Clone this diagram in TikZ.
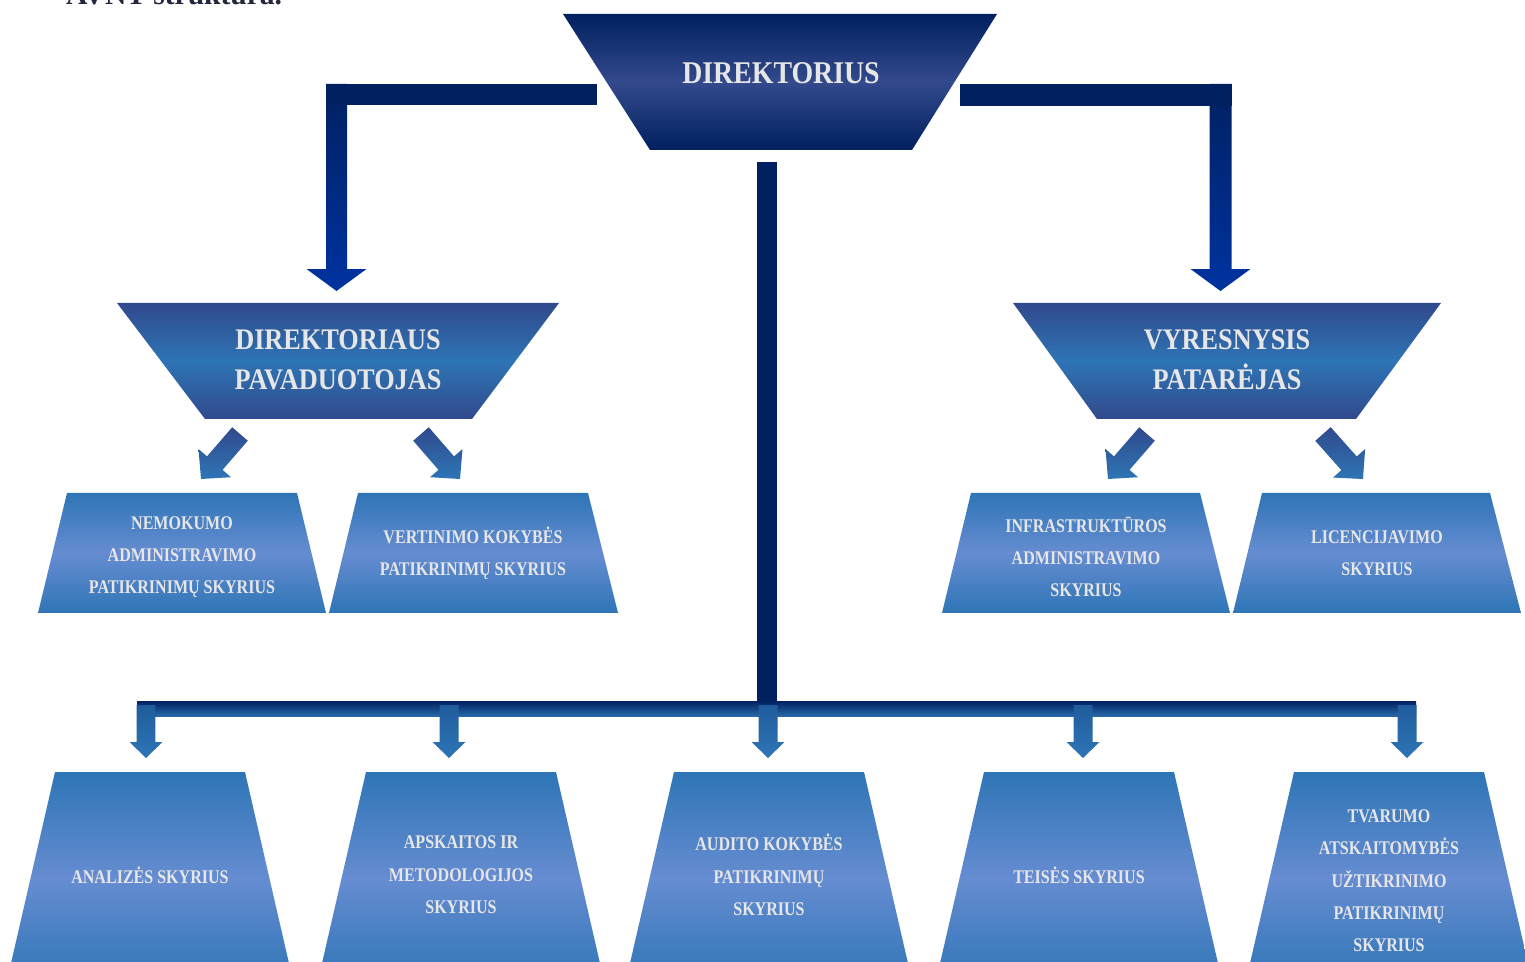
\documentclass[tikz,border=0pt]{standalone}
\usepackage{fontspec}
\setmainfont{Liberation Serif}
\newfontfamily\headfont[FakeStretch=0.88]{Liberation Serif}
\newfontfamily\boxfont[FakeStretch=0.83]{Liberation Serif}
\usetikzlibrary{calc}
\definecolor{qqnavy}{rgb}{0,0.125,0.376}
\definecolor{dirmid}{rgb}{0.2,0.29,0.55}
\definecolor{subdark}{rgb}{0.19,0.29,0.55}
\definecolor{subblue}{rgb}{0.18,0.455,0.71}
\definecolor{boxblue}{rgb}{0.18,0.46,0.714}
\definecolor{boxlight}{rgb}{0.4,0.55,0.82}
\definecolor{arrblue}{rgb}{0,0.2,0.63}
\definecolor{txtgray}{rgb}{0.906,0.902,0.902}
\definecolor{titlecol}{rgb}{0.14,0.15,0.25}
\tikzset{
  topbox/.style={top color=qqnavy,bottom color=qqnavy,middle color=dirmid},
  subbox/.style={top color=subdark,bottom color=subdark,middle color=subblue},
  unitbox/.style={top color=boxblue,bottom color=boxblue,middle color=boxlight},
  headtxt/.style={text=txtgray,align=center,font=\headfont\bfseries\fontsize{17}{22.7}\selectfont},
  unittxt/.style={text=txtgray,align=center,font=\boxfont\bfseries\fontsize{11}{18.4}\selectfont}
}
\newcommand{\blockarrow}[6]{%
  \coordinate (hb) at ($(#2)!#5!(#1)$);
  \shade[#6] ($(#1)!#3!90:(#2)$) -- ($(hb)!#3!90:(#2)$) -- ($(hb)!#4!90:(#2)$) -- (#2)
    -- ($(hb)!#4!-90:(#2)$) -- ($(hb)!#3!-90:(#2)$) -- ($(#1)!#3!-90:(#2)$) -- cycle;}

\begin{document}
\begin{tikzpicture}[line join=round,x=0.02cm,y=-0.02cm]
\useasboundingbox (0,0) rectangle (1525,962);
\node[anchor=base west,text=titlecol,font=\bfseries\fontsize{16.8}{20}\selectfont] (title) at (60,5) {AVNT struktūra.};

\shade[topbox] (563,14) -- (997,14) -- (912,150) -- (650,150) -- cycle;
\shade[subbox] (117,303) -- (559,303) -- (472,419) -- (205,419) -- cycle;
\shade[subbox] (1013,303) -- (1441,303) -- (1356,419) -- (1097,419) -- cycle;
\shade[unitbox] (67,493) -- (297,493) -- (326,613) -- (38,613) -- cycle;
\shade[unitbox] (358,493) -- (588,493) -- (618,613) -- (329,613) -- cycle;
\shade[unitbox] (971,493) -- (1200,493) -- (1230,613) -- (942,613) -- cycle;
\shade[unitbox] (1262,493) -- (1490,493) -- (1521,613) -- (1233,613) -- cycle;
\foreach \x in {150,461,769,1079,1389}
  \shade[unitbox] (\x-95,772) -- (\x+95,772) -- (\x+144,985) -- (\x-144,985) -- cycle;

\node[headtxt,font=\headfont\bfseries\fontsize{18}{22}\selectfont] (dir) at (781,73) {DIREKTORIUS};
\node[headtxt] (pav) at (338,360) {DIREKTORIAUS\\PAVADUOTOJAS};
\node[headtxt] (pat) at (1227,360) {VYRESNYSIS\\PATARĖJAS};
\node[unittxt] (nem) at (182,557) {NEMOKUMO\\ADMINISTRAVIMO\\PATIKRINIMŲ SKYRIUS};
\node[unittxt] (ver) at (473,553) {VERTINIMO KOKYBĖS\\PATIKRINIMŲ SKYRIUS};
\node[unittxt] (inf) at (1086,557) {INFRASTRUKTŪROS\\ADMINISTRAVIMO\\SKYRIUS};
\node[unittxt] (lic) at (1377,553) {LICENCIJAVIMO\\SKYRIUS};
\node[unittxt] (ana) at (150,875) {ANALIZĖS SKYRIUS};
\node[unittxt] (aps) at (461,875) {APSKAITOS IR\\METODOLOGIJOS\\SKYRIUS};
\node[unittxt] (aud) at (769,875) {AUDITO KOKYBĖS\\PATIKRINIMŲ\\SKYRIUS};
\node[unittxt] (tei) at (1079,875) {TEISĖS SKYRIUS};
\node[unittxt] (tva) at (1389,881) {TVARUMO\\ATSKAITOMYBĖS\\UŽTIKRINIMO\\PATIKRINIMŲ\\SKYRIUS};

\coordinate (dirL) at (597,94.5);
\coordinate (dirR) at (960,94.5);
\coordinate (pavC) at (336.5,84);
\coordinate (pavT) at (336.5,291);
\coordinate (patC) at (1220.5,84);
\coordinate (patT) at (1220.5,291);
\blockarrow{pavC}{pavT}{0.21cm}{0.6cm}{0.44cm}{top color=qqnavy,bottom color=arrblue}
\blockarrow{patC}{patT}{0.22cm}{0.6cm}{0.44cm}{top color=qqnavy,bottom color=arrblue}
\fill[qqnavy] (326,84) rectangle (dirL |- 0,105);
\fill[qqnavy] (dirR |- 0,84) rectangle (1232,106);

\coordinate (nemA) at (240,434);
\coordinate (nemB) at (201,479);
\coordinate (verA) at (421,434);
\coordinate (verB) at (460,479);
\coordinate (infA) at (1147,434);
\coordinate (infB) at (1108,479);
\coordinate (licA) at (1323,434);
\coordinate (licB) at (1363,479);
\foreach \a/\b in {nemA/nemB,verA/verB,infA/infB,licA/licB}{
  \blockarrow{\a}{\b}{0.206cm}{0.43cm}{0.42cm}{top color=subdark,bottom color=boxblue}
}

\fill[qqnavy] (757,162) rectangle (777,708);
\shade[top color=qqnavy,bottom color=boxblue!85!qqnavy] (137,701) rectangle (1416,716);
\foreach \x in {146,449,768,1083,1407}{
  \coordinate (bt) at (\x,705);
  \coordinate (bh) at (\x,758);
  \blockarrow{bt}{bh}{0.19cm}{0.33cm}{0.32cm}{top color=boxblue!70!qqnavy,bottom color=boxblue}
}
\end{tikzpicture}
\end{document}
